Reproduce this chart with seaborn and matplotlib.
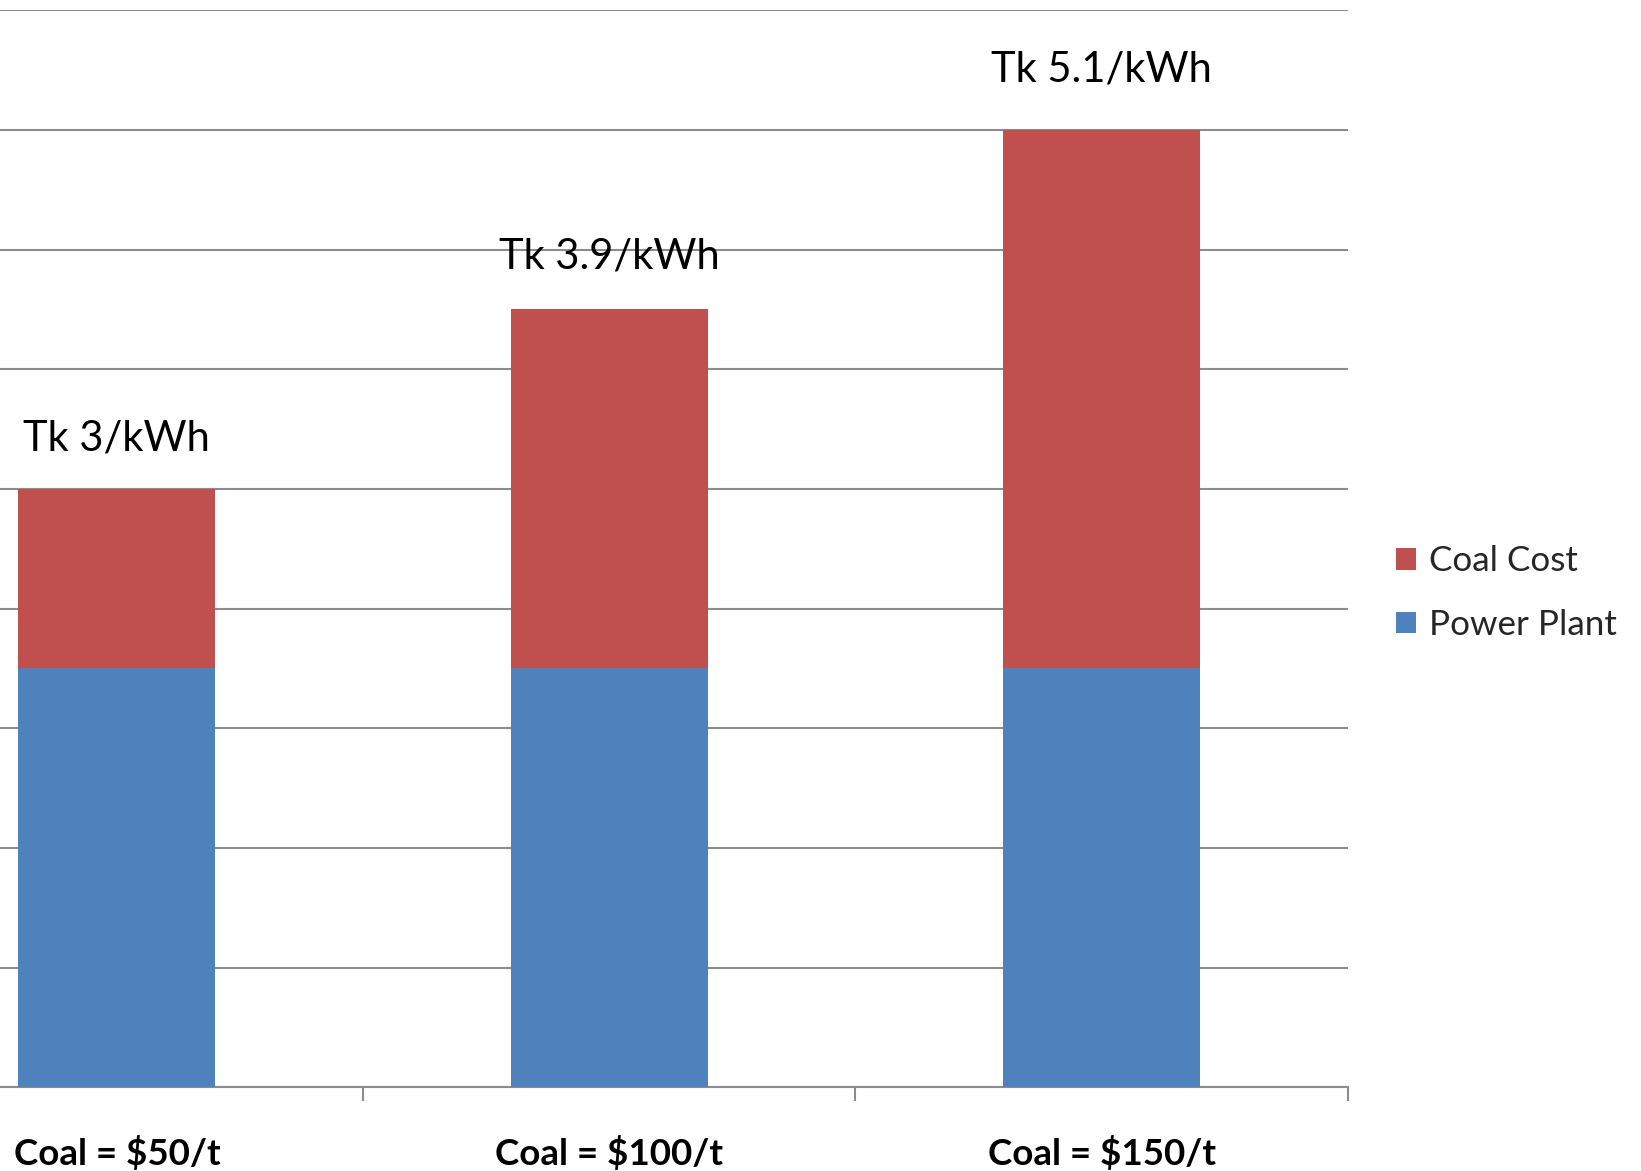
import matplotlib
matplotlib.use("Agg")
import matplotlib.pyplot as plt
import seaborn as sns
import pandas as pd

# Generation cost per kWh, split into plant and coal components
categories = ["Coal = $50/t", "Coal = $100/t", "Coal = $150/t"]
power_plant = [2.1, 2.1, 2.1]
coal_cost = [0.9, 1.8, 2.7]
total_labels = ["Tk 3/kWh", "Tk 3.9/kWh", "Tk 5.1/kWh"]

RED = "#C0504D"
BLUE = "#4F81BD"
GRID = "#8C8C8C"
LABEL_OFFSETS = [28, 29.5, 35]  # points above each bar top

sns.set_theme(style="white")
plt.rcParams["font.family"] = ["Lato", "DejaVu Sans"]

df = pd.DataFrame({
    "category": categories,
    "Power Plant": power_plant,
    "Coal Cost": coal_cost,
})
df["total"] = df["Power Plant"] + df["Coal Cost"]

fig = plt.figure(figsize=(16.41, 11.71), dpi=100)
ax = fig.add_axes([-0.0788, 0.0715, 0.9001, 0.9197])

# stacked bars: full height in red, plant share in blue on top of it
sns.barplot(data=df, x="category", y="total", color=RED, width=0.4,
            saturation=1, linewidth=0, ax=ax, label="Coal Cost", zorder=3)
sns.barplot(data=df, x="category", y="Power Plant", color=BLUE, width=0.4,
            saturation=1, linewidth=0, ax=ax, label="Power Plant", zorder=3)

ax.set_xlim(-0.5, 2.5)
ax.set_ylim(0, 5.4)
ax.set_yticks([0.6 * i for i in range(10)])
ax.yaxis.grid(True, color=GRID, linewidth=1.5)
ax.set_axisbelow(True)
ax.tick_params(axis="y", left=False, labelleft=False)
ax.set_xlabel("")
ax.set_ylabel("")

for side in ["left", "right", "top"]:
    ax.spines[side].set_visible(False)
ax.spines["bottom"].set_color(GRID)
ax.spines["bottom"].set_linewidth(1.5)

# category labels under bars, tick marks at category boundaries
ax.set_xticks(range(len(categories)))
ax.set_xticklabels(categories, fontsize=26.5, fontweight="bold", color="black")
ax.tick_params(axis="x", which="major", length=0, pad=35)
ax.set_xticks([-0.5, 0.5, 1.5, 2.5], minor=True)
ax.tick_params(axis="x", which="minor", length=10, width=1.5, color=GRID,
               direction="out", bottom=True)

for i, (tot, lab) in enumerate(zip(df["total"], total_labels)):
    ax.annotate(lab, xy=(i, tot), xytext=(0, LABEL_OFFSETS[i]),
                textcoords="offset points", ha="center", va="baseline",
                fontsize=30, color="black")

handles, labels = ax.get_legend_handles_labels()
fig.legend(handles, labels, loc="center left", bbox_to_anchor=(0.8507, 0.4935),
           frameon=False, fontsize=25.2, handlelength=0.58, handleheight=0.58,
           handletextpad=0.35, labelspacing=0.9, borderpad=0, borderaxespad=0)
if ax.get_legend() is not None:
    ax.get_legend().remove()

fig.savefig("out.png", dpi=100)
